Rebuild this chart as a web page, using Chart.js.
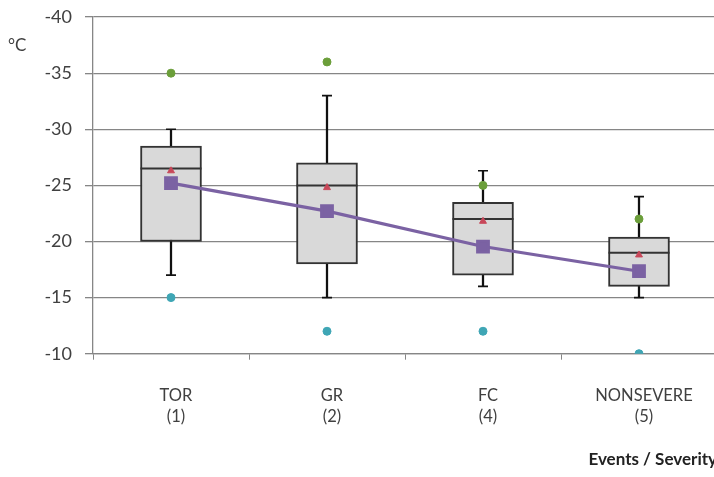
<!DOCTYPE html>
<html>
<head>
<meta charset="utf-8">
<script src="https://cdn.jsdelivr.net/npm/chart.js@4.4.1/dist/chart.umd.min.js"></script>
<style>
  html, body { margin: 0; padding: 0; background: #fff; overflow: hidden; }
  /* plot runs a few px past the right edge, like the cropped original */
  #wrap { position: relative; width: 720px; height: 477px; }
  #unit { position: absolute; left: 8px; top: 34px; font: 17px Lato, sans-serif; color: #404040; }
</style>
</head>
<body>
<div id="wrap">
  <canvas id="chart"></canvas>
  <div id="unit">°C</div>
</div>
<script>
// box plot values per category (°C)
const CATEGORIES   = [['TOR', '(1)'], ['GR', '(2)'], ['FC', '(4)'], ['NONSEVERE', '(5)']];
const WHISKER_HIGH = [-30, -33, -26.3, -24];
const Q3           = [-28.5, -27, -23.5, -20.4];
const MEDIAN       = [-26.5, -25, -22, -19];
const Q1           = [-20, -18, -17, -16];
const WHISKER_LOW  = [-17, -15, -16, -15];
const MEAN         = [-26.3, -24.8, -21.8, -18.8];
const TREND        = [-25.2, -22.7, -19.55, -17.35];
const MAX_POINT    = [-35, -36, -25, -22];
const MIN_POINT    = [-15, -12, -12, -10];
const Y_TICKS      = [-40, -35, -30, -25, -20, -15, -10];

const GRID   = '#868686';
const TEXT   = '#404040';
const BOX    = '#d9d9d9';
const PURPLE = '#7b62a3';
const RED    = '#c8485a';
const GREEN  = '#6b9e3a';
const TEAL   = '#3fa6b5';
const FONT   = 'Lato, sans-serif';

const pts = (arr, extra) => Object.assign({
  type: 'line', data: arr, showLine: false, pointBorderWidth: 1,
}, extra);

new Chart(document.getElementById('chart'), {
  type: 'bar',
  data: {
    labels: CATEGORIES,
    datasets: [
      { // whisker stem, drawn under the box
        data: WHISKER_LOW.map((v, i) => [v, WHISKER_HIGH[i]]),
        backgroundColor: '#111', barThickness: 1.6, grouped: false, order: 10,
      },
      { // interquartile box
        data: Q1.map((v, i) => [v, Q3[i]]),
        backgroundColor: BOX, borderColor: '#333', borderWidth: 2, borderSkipped: false,
        barThickness: 61, grouped: false, order: 9,
      },
      pts(WHISKER_HIGH, { pointStyle: 'line', pointRadius: 5, pointBorderWidth: 1.6, pointBorderColor: '#111', order: 8 }),
      pts(WHISKER_LOW,  { pointStyle: 'line', pointRadius: 5, pointBorderWidth: 1.6, pointBorderColor: '#111', order: 8 }),
      pts(MEDIAN, { pointStyle: 'line', pointRadius: 30.5, pointBorderWidth: 2, pointBorderColor: '#333', order: 7 }),
      pts(MAX_POINT, { pointStyle: 'circle', pointRadius: 4, pointBackgroundColor: GREEN, pointBorderColor: GREEN, order: 6 }),
      pts(MIN_POINT, { pointStyle: 'circle', pointRadius: 4, pointBackgroundColor: TEAL, pointBorderColor: TEAL, order: 6 }),
      pts(MEAN, { pointStyle: 'triangle', pointRadius: 4, pointBackgroundColor: RED, pointBorderColor: RED, order: 5 }),
      {
        type: 'line', data: TREND, borderColor: PURPLE, borderWidth: 3.2,
        pointStyle: 'rect', pointRadius: 7.5, pointBackgroundColor: PURPLE, pointBorderColor: PURPLE,
        order: 4,
      },
    ],
  },
  options: {
    responsive: true,
    maintainAspectRatio: false,
    animation: false,
    layout: { autoPadding: false, padding: { top: 0, right: 3, left: 0, bottom: 7 } },
    plugins: { legend: { display: false }, tooltip: { enabled: false } },
    scales: {
      x: {
        offset: true,
        grid: { offset: true, drawOnChartArea: false, drawTicks: true, tickLength: 6, color: GRID },
        border: { color: GRID, width: 1.3 },
        ticks: {
          color: TEXT, font: { family: FONT, size: 16.5, lineHeight: 1.3 },
          padding: 25, labelOffset: 5, maxRotation: 0,
        },
        title: {
          display: true, text: 'Events / Severity', align: 'end', color: '#222',
          font: { family: FONT, size: 17, weight: 'bold' }, padding: { top: -3, bottom: 0 },
        },
      },
      y: {
        reverse: true, min: -40, max: -10,
        afterBuildTicks: (s) => { s.ticks = Y_TICKS.map(v => ({ value: v })); },
        afterFit: (s) => { s.width = 93; },
        grid: { color: GRID, lineWidth: 1.3, tickLength: 8 },
        border: { color: GRID, width: 1.3 },
        // small lineHeight keeps the top label overhang from pushing the plot down
        ticks: { color: TEXT, font: { family: FONT, size: 18, lineHeight: 0.45 }, padding: 13 },
      },
    },
  },
});
</script>
</body>
</html>
